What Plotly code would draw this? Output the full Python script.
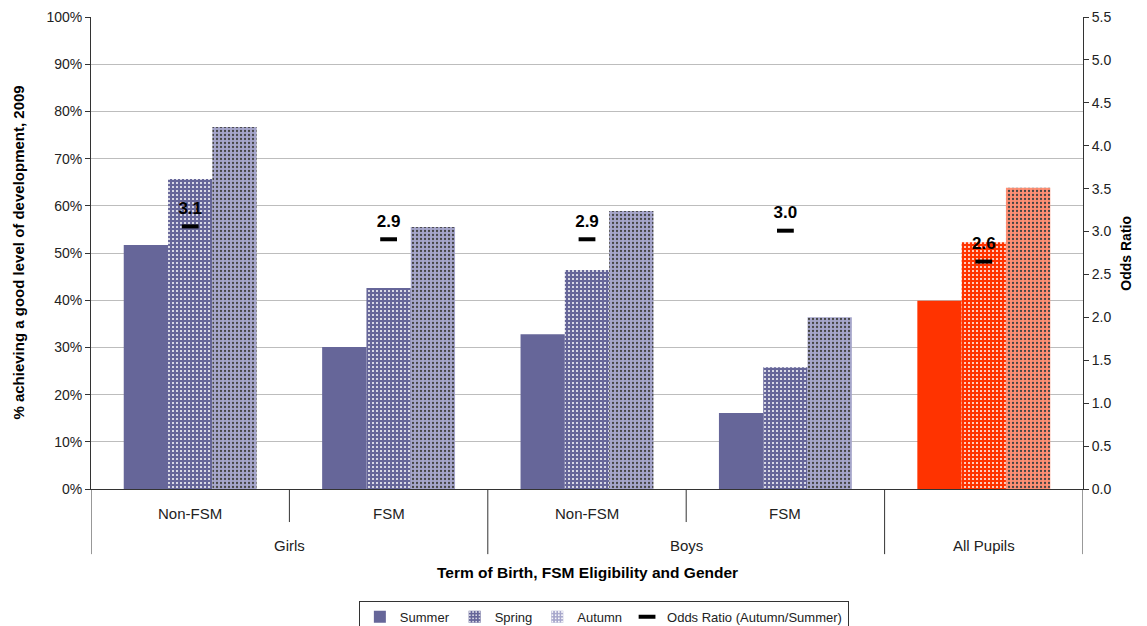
import plotly.graph_objects as go

outer_labels = ["Girls", "Boys", "All Pupils"]
outer_centers = [0.5, 2.5, 4.0]
inner_labels = ["Non-FSM", "FSM", "Non-FSM", "FSM", ""]
groups = [0, 1, 2, 3, 4]

summer = [51.7, 30.1, 32.8, 16.1, 39.9]
spring = [65.7, 42.6, 46.4, 25.8, 52.3]
autumn = [76.7, 55.5, 58.9, 36.4, 63.8]
odds = [3.06, 2.91, 2.91, 3.01, 2.65]
odds_labels = ["3.1", "2.9", "2.9", "3.0", "2.6"]

FONT = "Liberation Sans, Arial, sans-serif"

purple = "#666699"
purple_light = "#a6a6cb"
red = "#ff3300"
red_light = "#ff8f74"

def colors(base, last):
    return [base] * 4 + [last]

fig = go.Figure()
fig.add_trace(go.Bar(
    name="Summer", x=groups, y=summer,
    marker=dict(color=colors(purple, red), line=dict(width=0)),
))
fig.add_trace(go.Bar(
    name="Spring", x=groups, y=spring,
    marker=dict(color=colors(purple, red), line=dict(width=0),
                pattern=dict(shape=".", fgcolor="white", fgopacity=1, size=4,
                             solidity=0.2, fillmode="overlay")),
))
fig.add_trace(go.Bar(
    name="Autumn", x=groups, y=autumn,
    marker=dict(color=colors(purple_light, red_light), line=dict(width=0),
                pattern=dict(shape=".", fgcolor="white", fgopacity=1, size=4,
                             solidity=0.25, fillmode="overlay")),
))
fig.add_trace(go.Scatter(
    name="Odds Ratio (Autumn/Summer)", x=groups, y=odds, yaxis="y2",
    mode="markers+text", text=odds_labels, textposition="top center",
    textfont=dict(family=FONT, size=17, color="black", weight="bold"),
    marker=dict(symbol="line-ew", size=12, line=dict(width=4, color="black"), color="black"),
    cliponaxis=False,
))

# category dividers below the axis
full_div = [-0.5, 1.5, 3.5, 4.5]
short_div = [0.5, 2.5]
for xv in full_div:
    fig.add_shape(type="line", xref="x", yref="paper", x0=xv, x1=xv, y0=0, y1=-0.138,
                  line=dict(color="#333333", width=1))
for xv in short_div:
    fig.add_shape(type="line", xref="x", yref="paper", x0=xv, x1=xv, y0=0, y1=-0.070,
                  line=dict(color="#333333", width=1))

annotations = []
for g, lab in zip(groups, inner_labels):
    if lab:
        annotations.append(dict(text=lab, xref="x", yref="paper", x=g, y=-0.051,
                                xanchor="center", yanchor="middle", showarrow=False,
                                font=dict(size=15, color="#222222")))
for c, lab in zip(outer_centers, outer_labels):
    annotations.append(dict(text=lab, xref="x", yref="paper", x=c, y=-0.119,
                            xanchor="center", yanchor="middle", showarrow=False,
                            font=dict(size=15, color="#222222")))
annotations += [
    dict(text="<b>% achieving a good level of development, 2009</b>", textangle=-90,
         xref="paper", yref="paper", x=-0.074, y=0.5, xanchor="center", yanchor="middle",
         showarrow=False, font=dict(size=15, color="black")),
    dict(text="<b>Odds Ratio</b>", textangle=-90,
         xref="paper", yref="paper", x=1.043, y=0.5, xanchor="center", yanchor="middle",
         showarrow=False, font=dict(size=14, color="black")),
    dict(text="<b>Term of Birth, FSM Eligibility and Gender</b>",
         xref="paper", yref="paper", x=0.5, y=-0.176, xanchor="center", yanchor="middle",
         showarrow=False, font=dict(size=15.5, color="black")),
]

fig.update_layout(
    width=1139, height=618,
    paper_bgcolor="white", plot_bgcolor="white",
    margin=dict(l=83, r=64, t=9, b=137, autoexpand=False),
    barmode="group", bargap=0.33, bargroupgap=0,
    font=dict(family=FONT, size=13, color="#222222"),
    showlegend=True,
    legend=dict(orientation="h", x=0.517, xanchor="center", y=-0.237, yanchor="top",
                bordercolor="#333333", borderwidth=1, font=dict(size=13),
                tracegroupgap=0),
    xaxis=dict(range=[-0.5, 4.5], showline=True, linecolor="#333333", linewidth=1,
               showticklabels=False, ticks="", showgrid=False, zeroline=False),
    yaxis=dict(range=[0, 100], dtick=10, ticksuffix="%", showline=True, linecolor="#333333",
               ticks="outside", ticklen=5, tickcolor="#333333", gridcolor="#bdbdbd",
               tickfont=dict(size=14), zeroline=False),
    yaxis2=dict(range=[0, 5.5], dtick=0.5, tickformat=".1f", overlaying="y", side="right",
                showline=True, linecolor="#333333", ticks="outside", ticklen=5,
                tickcolor="#333333", showgrid=False, zeroline=False, tickfont=dict(size=14)),
    annotations=annotations,
)

fig.write_html("out.html")
